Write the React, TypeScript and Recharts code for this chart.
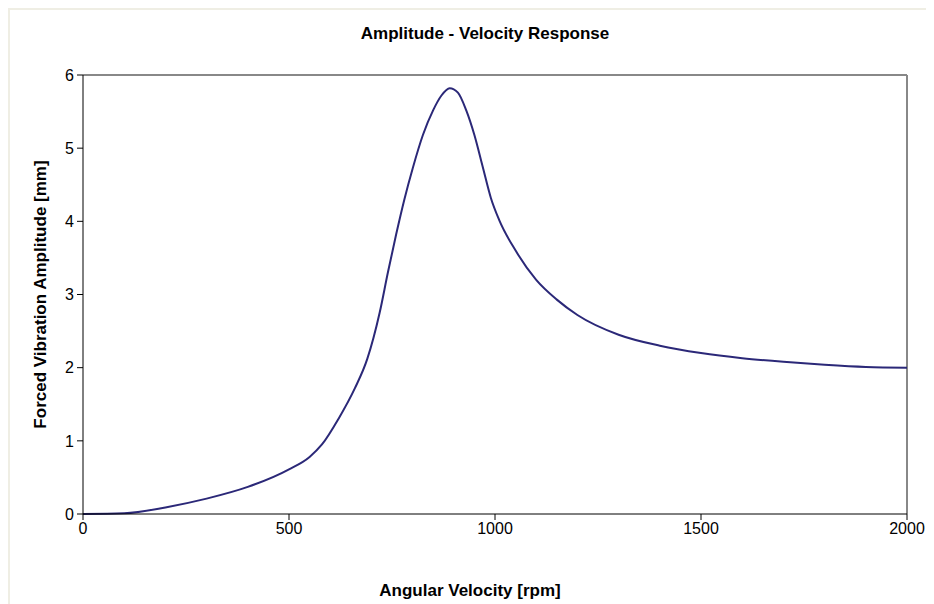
import { LineChart, Line, XAxis, YAxis, ReferenceLine } from 'recharts';

// angular velocity [rpm]
const rpm = [0, 100, 200, 300, 400, 500, 550, 580, 620, 660, 690, 720, 740, 760, 780, 800, 825, 850, 870, 890, 910, 930, 950, 970, 990, 1010, 1050, 1100, 1150, 1200, 1300, 1400, 1500, 1600, 1700, 1800, 1900, 2000];
// forced vibration amplitude [mm]
const amplitude = [0, 0.01, 0.09, 0.21, 0.37, 0.61, 0.78, 0.95, 1.3, 1.72, 2.12, 2.75, 3.3, 3.82, 4.3, 4.72, 5.18, 5.52, 5.72, 5.82, 5.76, 5.52, 5.18, 4.75, 4.32, 4.02, 3.6, 3.2, 2.93, 2.72, 2.45, 2.3, 2.2, 2.13, 2.08, 2.04, 2.01, 2.0];
const xTicks = [0, 500, 1000, 1500, 2000];
const yTicks = [0, 1, 2, 3, 4, 5, 6];

const data = rpm.map((v, i) => ({ rpm: v, amp: amplitude[i] }));

const font = '"Liberation Sans", Arial, sans-serif';

export default function App() {
  return (
    <div style={{ position: 'relative', width: 926, height: 596, fontFamily: font, borderLeft: '2px solid #efeee4', borderTop: '2px solid #efeee4', boxSizing: 'border-box' }}>
      <div style={{ position: 'absolute', left: 0, width: 950, top: 14, textAlign: 'center', fontWeight: 'bold', fontSize: 17 }}>
        Amplitude - Velocity Response
      </div>
      <div style={{ position: 'absolute', left: 0, top: 0 }}>
        <LineChart width={924} height={594} data={data} margin={{ top: 65, right: 27, bottom: 60, left: 33 }}>
          <XAxis
            dataKey="rpm"
            type="number"
            domain={[0, 2000]}
            ticks={xTicks}
            stroke="#000"
            tick={{ fill: '#000', fontSize: 16, fontFamily: font }}
            tickSize={6}
            tickMargin={3}
            height={30}
            label={{ value: 'Angular Velocity [rpm]', position: 'bottom', offset: 40, dx: -25, style: { fontWeight: 'bold', fontSize: 17, fill: '#000', fontFamily: font } }}
          />
          <YAxis
            type="number"
            domain={[0, 6]}
            ticks={yTicks}
            stroke="#000"
            tick={{ fill: '#000', fontSize: 16, fontFamily: font }}
            tickSize={6}
            tickMargin={3}
            width={40}
            label={{ value: 'Forced Vibration Amplitude [mm]', angle: -90, position: 'insideLeft', dx: -8, style: { textAnchor: 'middle', fontWeight: 'bold', fontSize: 17, fill: '#000', fontFamily: font } }}
          />
          <ReferenceLine y={6} stroke="#888" strokeWidth={2} />
          <ReferenceLine x={2000} stroke="#888" strokeWidth={2} />
          <Line dataKey="amp" type="monotone" stroke="#2b2878" strokeWidth={2} dot={false} isAnimationActive={false} />
        </LineChart>
      </div>
    </div>
  );
}
